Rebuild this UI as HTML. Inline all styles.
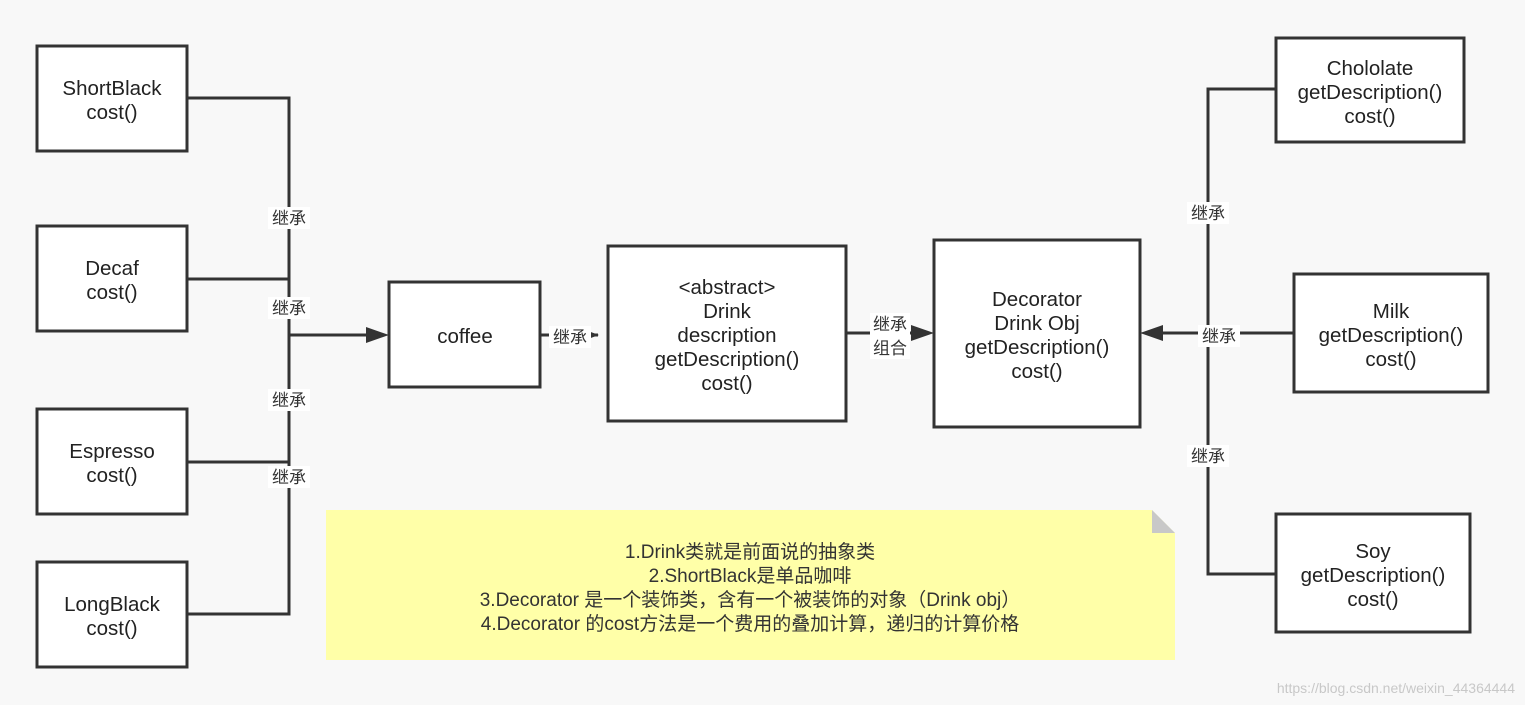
<!DOCTYPE html>
<html><head><meta charset="utf-8"><style>
body{margin:0;background:#f8f8f8;}
svg{display:block;font-family:"Liberation Sans","Noto Sans CJK SC",sans-serif;}
</style></head><body>
<svg width="1525" height="705" viewBox="0 0 1525 705" xmlns="http://www.w3.org/2000/svg">
<rect width="1525" height="705" fill="#f8f8f8"/>
<g fill="#fff" stroke="#333" stroke-width="3">
<rect x="37" y="46" width="150" height="105"/>
<rect x="37" y="226" width="150" height="105"/>
<rect x="37" y="409" width="150" height="105"/>
<rect x="37" y="562" width="150" height="105"/>
<rect x="389" y="282" width="151" height="105"/>
<rect x="608" y="246" width="238" height="175"/>
<rect x="934" y="240" width="206" height="187"/>
<rect x="1276" y="38" width="188" height="104"/>
<rect x="1294" y="274" width="194" height="118"/>
<rect x="1276" y="514" width="194" height="118"/>
</g>
<g fill="none" stroke="#333" stroke-width="3">
<polyline points="187,98 289,98 289,614 187,614"/>
<line x1="187" y1="279" x2="289" y2="279"/>
<line x1="187" y1="462" x2="289" y2="462"/>
<line x1="289" y1="335" x2="368" y2="335"/>
<line x1="540" y1="335" x2="598" y2="335"/>
<line x1="846" y1="333" x2="912" y2="333"/>
<polyline points="1276,89 1208,89 1208,574 1276,574"/>
<line x1="1162" y1="333" x2="1294" y2="333"/>
</g>
<g fill="#333">
<polygon points="366,327 389,335 366,343"/>
<polygon points="588,331 599,335 588,339"/>
<polygon points="911,325 934,333 911,341"/>
<polygon points="1163,325 1140,333 1163,341"/>
</g>
<g fill="#fff">
<rect x="268" y="207" width="42" height="22"/>
<rect x="268" y="297" width="42" height="22"/>
<rect x="268" y="389" width="42" height="22"/>
<rect x="268" y="466" width="42" height="22"/>
<rect x="549" y="326" width="42" height="22"/>
<rect x="870" y="313" width="40" height="46"/>
<rect x="1187" y="202" width="42" height="22"/>
<rect x="1198" y="325" width="42" height="22"/>
<rect x="1187" y="445" width="42" height="22"/>
</g>
<g font-size="17" fill="#333" text-anchor="middle">
<text x="289" y="224">继承</text>
<text x="289" y="314">继承</text>
<text x="289" y="406">继承</text>
<text x="289" y="483">继承</text>
<text x="570" y="343">继承</text>
<text x="890" y="330">继承</text>
<text x="890" y="354">组合</text>
<text x="1208" y="219">继承</text>
<text x="1219" y="342">继承</text>
<text x="1208" y="462">继承</text>
</g>
<g font-size="20.5" fill="#222" text-anchor="middle">
<text x="112" y="95">ShortBlack</text><text x="112" y="119">cost()</text>
<text x="112" y="275">Decaf</text><text x="112" y="299">cost()</text>
<text x="112" y="458">Espresso</text><text x="112" y="482">cost()</text>
<text x="112" y="611">LongBlack</text><text x="112" y="635">cost()</text>
<text x="465" y="343">coffee</text>
<text x="727" y="294">&lt;abstract&gt;</text>
<text x="727" y="318">Drink</text>
<text x="727" y="342">description</text>
<text x="727" y="366">getDescription()</text>
<text x="727" y="390">cost()</text>
<text x="1037" y="306">Decorator</text>
<text x="1037" y="330">Drink Obj</text>
<text x="1037" y="354">getDescription()</text>
<text x="1037" y="378">cost()</text>
<text x="1370" y="75">Chololate</text>
<text x="1370" y="99">getDescription()</text>
<text x="1370" y="123">cost()</text>
<text x="1391" y="318">Milk</text>
<text x="1391" y="342">getDescription()</text>
<text x="1391" y="366">cost()</text>
<text x="1373" y="558">Soy</text>
<text x="1373" y="582">getDescription()</text>
<text x="1373" y="606">cost()</text>
</g>
<polygon points="326,510 1152,510 1175,533 1175,660 326,660" fill="#ffffa8"/>
<polygon points="1152,510 1175,533 1152,533" fill="#c8c8c8"/>
<g font-size="19" fill="#333" text-anchor="middle">
<text x="750" y="558">1.Drink类就是前面说的抽象类</text>
<text x="750" y="582">2.ShortBlack是单品咖啡</text>
<text x="750" y="606">3.Decorator 是一个装饰类，含有一个被装饰的对象（Drink obj）</text>
<text x="750" y="630">4.Decorator 的cost方法是一个费用的叠加计算，递归的计算价格</text>
</g>
<text x="1515" y="693" font-size="14" fill="#c8c8c8" text-anchor="end">https://blog.csdn.net/weixin_44364444</text>
</svg>
</body></html>
